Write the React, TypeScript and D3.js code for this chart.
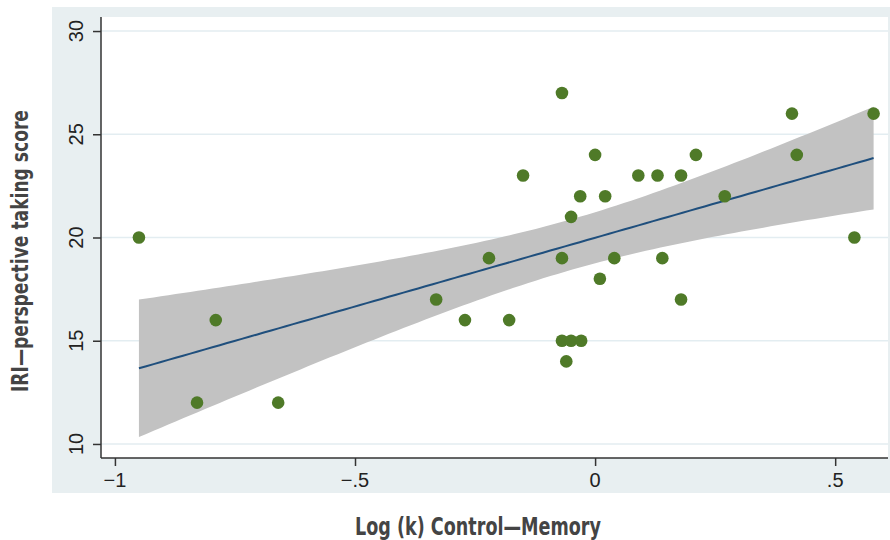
import React, { useRef, useEffect } from "react";
import * as d3 from "d3";

// Log (k) Control–Memory vs IRI perspective-taking score
const logK = [
  -0.95, -0.829, -0.79, -0.66, -0.331, -0.271, -0.221, -0.179, -0.15, -0.069, -0.069, -0.069,
  -0.06, -0.05, -0.05, -0.031, -0.029, 0.0, 0.01, 0.021, 0.04, 0.09, 0.13, 0.14, 0.179, 0.179,
  0.21, 0.27, 0.41, 0.42, 0.54, 0.58,
];
const iriScore = [
  20, 12, 16, 12, 17, 16, 19, 16, 23, 27, 19, 15, 14, 15, 21, 22, 15, 24, 18, 22, 19, 23, 23, 19,
  23, 17, 24, 22, 26, 24, 20, 26,
];
const xTicks = [-1, -0.5, 0, 0.5];
const xTickLabels = ["\u22121", "\u2212.5", "0", ".5"];
const yTicks = [10, 15, 20, 25, 30];

const W = 890;
const H = 540;

function ScatterFit() {
  const svgRef = useRef<SVGSVGElement>(null);

  useEffect(() => {
    const svg = d3.select(svgRef.current);
    svg.selectAll("*").remove();

    const left = 101, right = 888, top = 17, bottom = 458;

    const x = d3.scaleLinear().domain([-1.029, 0.61]).range([left, right]);
    const y = d3.scaleLinear().domain([9.32, 30.68]).range([bottom, top]);

    // outer panel + plot region
    svg.append("rect").attr("x", 52).attr("y", 7).attr("width", W - 52).attr("height", 486).attr("fill", "#e8eff1");
    svg.append("rect").attr("x", left).attr("y", top).attr("width", right - left).attr("height", bottom - top).attr("fill", "#fff");

    // gridlines
    svg.append("g").selectAll("line").data(yTicks).join("line")
      .attr("x1", left).attr("x2", right)
      .attr("y1", (d) => y(d)).attr("y2", (d) => y(d))
      .attr("stroke", "#e3edf1").attr("stroke-width", 1.5);

    // least squares fit + 95% CI of the mean
    const pts = logK.map((v, i) => ({ x: v, y: iriScore[i] }));
    const n = pts.length;
    const mx = d3.mean(pts, (d) => d.x) as number;
    const my = d3.mean(pts, (d) => d.y) as number;
    const sxx = d3.sum(pts, (d) => (d.x - mx) ** 2);
    const sxy = d3.sum(pts, (d) => (d.x - mx) * (d.y - my));
    const b = sxy / sxx;
    const a = my - b * mx;
    const sse = d3.sum(pts, (d) => (d.y - (a + b * d.x)) ** 2);
    const s = Math.sqrt(sse / (n - 2));
    const tcrit = 2.042; // t(0.975, 30)

    const [xmin, xmax] = d3.extent(logK) as [number, number];
    const grid = d3.range(0, 101).map((i) => xmin + ((xmax - xmin) * i) / 100);
    const band = grid.map((gx) => {
      const fit = a + b * gx;
      const se = s * Math.sqrt(1 / n + (gx - mx) ** 2 / sxx);
      return { x: gx, fit, lo: fit - tcrit * se, hi: fit + tcrit * se };
    });

    const area = d3.area<any>().x((d) => x(d.x)).y0((d) => y(d.lo)).y1((d) => y(d.hi));
    svg.append("path").datum(band).attr("d", area).attr("fill", "#c2c2c2");

    const line = d3.line<any>().x((d) => x(d.x)).y((d) => y(d.fit));
    svg.append("path").datum(band).attr("d", line).attr("fill", "none")
      .attr("stroke", "#1f4f7d").attr("stroke-width", 2);

    // points
    svg.append("g").selectAll("circle").data(pts).join("circle")
      .attr("cx", (d) => x(d.x)).attr("cy", (d) => y(d.y)).attr("r", 6.3)
      .attr("fill", "#4f7a28");

    // axes
    const font = "'Liberation Sans', Arial, sans-serif";
    const yAxis = svg.append("g").attr("transform", `translate(${left},0)`)
      .call(d3.axisLeft(y).tickValues(yTicks).tickSize(8).tickSizeOuter(0).tickFormat(() => ""));
    yAxis.select(".domain").attr("d", `M0,${top}V${bottom}`);
    yAxis.selectAll("line, path").attr("stroke", "#333").attr("stroke-width", 1.5);

    const xAxis = svg.append("g").attr("transform", `translate(0,${bottom})`)
      .call(d3.axisBottom(x).tickValues(xTicks).tickSize(8).tickSizeOuter(0).tickFormat(() => ""));
    xAxis.select(".domain").attr("d", `M${left},0H${right}`);
    xAxis.selectAll("line, path").attr("stroke", "#333").attr("stroke-width", 1.5);

    svg.append("g").selectAll("text").data(yTicks).join("text")
      .attr("transform", (d) => `translate(83,${y(d)}) rotate(-90)`)
      .attr("text-anchor", "middle")
      .attr("font-family", font).attr("font-size", 20).attr("fill", "#222")
      .text((d) => String(d));

    svg.append("g").selectAll("text").data(xTicks).join("text")
      .attr("x", (d) => x(d)).attr("y", 487)
      .attr("text-anchor", "middle")
      .attr("font-family", font).attr("font-size", 20).attr("fill", "#222")
      .text((d, i) => xTickLabels[i]);

    // condensed bold titles, squeezed to the width used in the original
    const titleFont = "'Liberation Sans Narrow', 'DejaVu Sans Condensed', 'Roboto', sans-serif";
    svg.append("text")
      .attr("x", 478).attr("y", 535)
      .attr("text-anchor", "middle")
      .attr("font-family", titleFont).attr("font-weight", "bold").attr("font-size", 24)
      .attr("textLength", 246).attr("lengthAdjust", "spacingAndGlyphs")
      .attr("fill", "#444")
      .text("Log (k) Control\u2014Memory");

    svg.append("text")
      .attr("transform", "translate(28,251) rotate(-90)")
      .attr("text-anchor", "middle")
      .attr("font-family", titleFont).attr("font-weight", "bold").attr("font-size", 23)
      .attr("textLength", 282).attr("lengthAdjust", "spacingAndGlyphs")
      .attr("fill", "#444")
      .text("IRI\u2014perspective taking score");
  }, []);

  return (
    <svg ref={svgRef} width={W} height={H}
      style={{ position: "absolute", left: 0, top: 0, background: "#fff" }} />
  );
}

export default function App() {
  return <ScatterFit />;
}
